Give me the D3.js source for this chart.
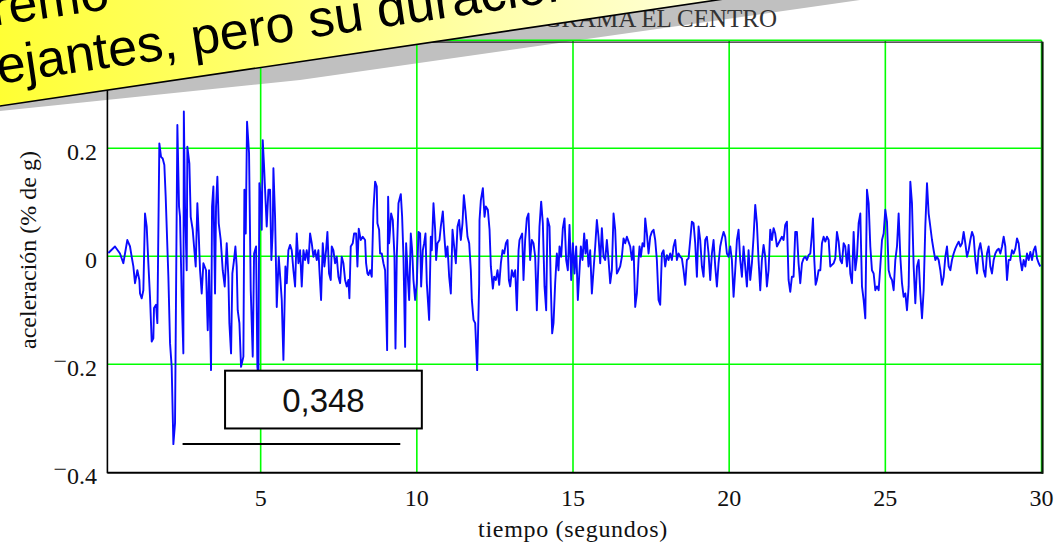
<!DOCTYPE html>
<html>
<head>
<meta charset="utf-8">
<script src="https://cdn.jsdelivr.net/npm/d3@7"></script>
<style>
  html, body { margin: 0; padding: 0; background: #fff; }
  svg { display: block; }
</style>
</head>
<body>
<div id="chart"></div>
<script>
// ── Texts ──
const titulo = 'ACELEROGRAMA EL CENTRO';
const tituloX = 'tiempo (segundos)';
const tituloY = 'aceleración (% de g)';
const bannerLinea1 = 'extremo';
const bannerLinea2 = 'semejantes, pero su duración es distinta';

// ── Axes ──
const xTicks = [5, 10, 15, 20, 25, 30];
const yTicks = [0.2, 0, -0.2, -0.4];
const gridX = [5, 10, 15, 20, 25, 30];
const gridY = [0.4, 0.2, 0, -0.2];

// ── Peak annotation ──
const picoValor = -0.348;
const picoTexto = '0,348';

// ── Accelerogram, t in s, a in g ──
const tiempo1 = [
  0.123, 0.336, 0.496, 0.603, 0.731, 0.817, 0.870, 0.924, 0.977, 1.052,
  1.116, 1.137, 1.191, 1.244, 1.297, 1.351, 1.404, 1.457, 1.511, 1.564,
  1.585, 1.650, 1.692, 1.756, 1.810, 1.863, 1.916, 1.959, 2.045, 2.098,
  2.151, 2.205, 2.258, 2.333, 2.386, 2.418, 2.472, 2.525, 2.540, 2.578,
  2.632, 2.653, 2.717, 2.760, 2.824, 2.867, 2.920, 2.973, 3.016, 3.059,
  3.112, 3.166, 3.251, 3.305, 3.347, 3.411, 3.443, 3.486, 3.539, 3.571,
  3.614, 3.657, 3.721, 3.785, 3.849, 3.913, 3.966, 3.998, 4.052, 4.094,
  4.148, 4.191, 4.233, 4.265, 4.319, 4.372, 4.447, 4.479, 4.522, 4.564,
  4.628, 4.682, 4.746, 4.789, 4.853, 4.895, 4.927, 4.959, 5.002, 5.034,
  5.066, 5.109, 5.141, 5.194, 5.248, 5.301, 5.343, 5.387, 5.408, 5.461,
  5.515, 5.579, 5.632, 5.675, 5.728, 5.792, 5.835, 5.888, 5.942, 5.995,
  6.048, 6.102
];
const acel1 = [
  0.006, 0.018, 0.005, -0.013, 0.030, 0.018, -0.001, -0.019, -0.050, -0.026,
  -0.044, -0.069, -0.078, -0.063, 0.079, 0.055, -0.013, -0.075, -0.158, -0.152,
  -0.096, -0.090, -0.124, 0.209, 0.184, 0.181, 0.169, 0.110, -0.038, -0.161,
  -0.205, -0.348, -0.309, 0.243, 0.092, 0.073, -0.075, -0.180, 0.268, 0.092,
  -0.026, 0.203, 0.172, 0.073, 0.049, 0.018, -0.019, 0.098, 0.042, -0.026,
  -0.069, -0.013, -0.026, -0.137, -0.026, -0.211, 0.092, 0.129, -0.069, 0.092,
  0.147, 0.061, 0.030, -0.026, -0.056, 0.024, -0.038, -0.124, -0.180, -0.032,
  -0.007, 0.018, -0.019, -0.100, -0.124, -0.205, -0.186, 0.123, 0.042, 0.249,
  0.191, -0.063, -0.186, 0.005, 0.018, -0.205, -0.223, 0.135, 0.110, 0.049,
  0.215, 0.166, 0.123, 0.055, 0.123, 0.123, -0.007, 0.049, 0.163, 0.073,
  -0.094, -0.001, -0.044, -0.081, -0.192, -0.019, -0.050, 0.011, 0.021, 0.011,
  -0.026, -0.056
];

const tiempo2 = [
  6.155, 6.209, 6.262, 6.315, 6.369, 6.422, 6.475, 6.529, 6.582, 6.635,
  6.689, 6.742, 6.796, 6.849, 6.881, 6.934, 6.988, 7.041, 7.094, 7.137,
  7.190, 7.244, 7.276, 7.329, 7.382, 7.436, 7.489, 7.543, 7.596, 7.649,
  7.703, 7.756, 7.809, 7.841, 7.884, 7.948, 7.991, 8.055, 8.098, 8.140,
  8.204, 8.268, 8.343, 8.375, 8.418, 8.450, 8.503, 8.557, 8.610, 8.664,
  8.717, 8.738, 8.792, 8.824, 8.877, 8.931, 8.984, 9.016, 9.049, 9.081,
  9.113, 9.177, 9.230, 9.284, 9.316, 9.358, 9.412, 9.487, 9.529, 9.572,
  9.625, 9.657, 9.711, 9.754, 9.807, 9.850, 9.892, 9.946, 9.999, 10.053,
  10.106, 10.138, 10.191, 10.234, 10.277, 10.320, 10.394, 10.447, 10.479, 10.533,
  10.586, 10.618, 10.661, 10.725, 10.768, 10.832, 10.875, 10.928, 10.982, 11.035,
  11.088, 11.142, 11.195, 11.249, 11.302, 11.355, 11.409, 11.462, 11.505, 11.558,
  11.622, 11.676, 11.729, 11.761, 11.815, 11.868, 11.932, 11.996, 12.007, 12.050,
  12.114, 12.167, 12.210, 12.274, 12.328, 12.370, 12.434, 12.477, 12.531, 12.584,
  12.637, 12.691, 12.744, 12.797, 12.851, 12.904, 12.947, 12.990, 13.043, 13.096,
  13.150, 13.203, 13.257
];
const acel2 = [
  0.042, -0.013, 0.011, -0.056, 0.011, -0.007, 0.011, -0.013, 0.042, 0.024,
  -0.001, 0.011, -0.007, 0.011, -0.026, -0.081, 0.024, -0.019, 0.011, 0.045,
  -0.032, -0.044, 0.018, 0.011, -0.013, -0.001, -0.038, -0.050, -0.001, -0.013,
  -0.044, -0.056, -0.044, -0.078, 0.018, 0.024, 0.042, 0.042, -0.019, 0.051,
  0.030, 0.036, 0.030, -0.013, -0.032, -0.035, -0.026, -0.038, 0.086, 0.138,
  0.129, 0.061, 0.049, 0.005, 0.005, -0.013, -0.026, -0.094, -0.174, 0.110,
  0.024, 0.079, 0.067, -0.001, -0.171, -0.001, 0.098, 0.115, 0.073, -0.001,
  -0.168, 0.024, -0.038, -0.081, 0.042, 0.011, -0.044, -0.081, -0.050, 0.045,
  0.042, -0.056, 0.011, 0.024, 0.042, -0.050, -0.118, 0.036, 0.011, 0.098,
  0.049, -0.007, 0.024, 0.030, 0.055, 0.083, 0.042, -0.001, 0.018, -0.038,
  -0.069, 0.049, 0.018, -0.013, 0.055, 0.067, 0.030, 0.061, 0.113, 0.083,
  0.036, 0.024, -0.026, -0.081, -0.118, -0.124, -0.211, -0.050, 0.067, 0.104,
  0.126, 0.073, 0.092, 0.086, 0.049, -0.019, -0.060, -0.038, -0.044, -0.026,
  -0.053, -0.013, 0.011, 0.005, 0.024, 0.030, -0.044, -0.056, -0.026, -0.038,
  -0.026, -0.100, 0.011
];

const tiempo3 = [
  13.287, 13.330, 13.372, 13.415, 13.468, 13.522, 13.575, 13.628, 13.682, 13.735,
  13.789, 13.842, 13.895, 13.927, 13.981, 14.034, 14.088, 14.141, 14.184, 14.248,
  14.290, 14.333, 14.376, 14.429, 14.483, 14.536, 14.568, 14.621, 14.675, 14.728,
  14.782, 14.835, 14.888, 14.942, 14.995, 15.049, 15.102, 15.155, 15.209, 15.251,
  15.305, 15.358, 15.401, 15.444, 15.497, 15.550, 15.604, 15.657, 15.711, 15.764,
  15.817, 15.871, 15.924, 15.977, 16.031, 16.084, 16.138, 16.191, 16.244, 16.298,
  16.351, 16.404, 16.458, 16.511, 16.565, 16.618, 16.671, 16.725, 16.778, 16.831,
  16.885, 16.938, 16.992, 17.045, 17.098, 17.130, 17.173, 17.226, 17.280, 17.312,
  17.365, 17.419, 17.472, 17.525, 17.579, 17.632, 17.685, 17.739, 17.792, 17.846,
  17.899, 17.952, 18.006, 18.059, 18.112, 18.166, 18.219, 18.273, 18.326, 18.379,
  18.433, 18.486, 18.539, 18.593, 18.646, 18.700, 18.753, 18.806, 18.860, 18.913,
  18.967, 19.020, 19.073, 19.127, 19.180, 19.233, 19.287, 19.340, 19.394, 19.447,
  19.500, 19.554, 19.607, 19.660, 19.714, 19.767, 19.821, 19.874, 19.927, 19.981,
  20.034, 20.087, 20.141, 20.194, 20.248, 20.301, 20.354, 20.408, 20.461, 20.514,
  20.568, 20.621, 20.675, 20.728, 20.781, 20.835, 20.888, 20.941, 20.995, 21.048,
  21.102, 21.155, 21.208, 21.262, 21.315, 21.368, 21.422, 21.475, 21.529, 21.582,
  21.635, 21.689, 21.742, 21.795, 21.849, 21.902, 21.956, 22.009, 22.062, 22.116,
  22.169, 22.222, 22.276
];
const acel3 = [
  0.030, 0.036, 0.042, -0.044, 0.030, 0.070, 0.079, -0.007, 0.030, 0.024,
  -0.001, -0.100, -0.007, 0.055, 0.101, 0.061, -0.056, -0.100, 0.070, 0.055,
  -0.056, -0.143, -0.124, -0.050, 0.005, -0.026, 0.018, -0.001, 0.052, 0.070,
  -0.007, -0.026, 0.058, -0.044, 0.024, -0.032, 0.018, -0.081, -0.026, 0.018,
  -0.007, 0.042, 0.005, 0.030, -0.019, 0.011, -0.069, -0.026, 0.018, 0.067,
  0.036, -0.013, 0.052, -0.001, -0.007, 0.030, -0.007, -0.050, -0.026, 0.079,
  0.049, -0.032, -0.026, -0.019, -0.001, 0.033, 0.024, 0.036, 0.027, 0.018,
  -0.007, 0.018, -0.094, -0.069, -0.007, 0.018, -0.001, 0.024, 0.018, 0.070,
  0.042, 0.005, 0.036, 0.045, 0.049, 0.030, -0.007, -0.081, -0.090, 0.005,
  0.011, -0.019, 0.002, -0.007, 0.005, -0.007, 0.018, 0.030, -0.007, 0.005,
  -0.001, -0.004, -0.026, -0.053, -0.007, -0.004, 0.030, 0.064, 0.061, 0.024,
  -0.038, 0.055, 0.030, -0.019, -0.038, 0.030, 0.036, 0.005, -0.044, 0.005,
  0.030, -0.019, -0.056, -0.013, 0.018, 0.033, 0.045, 0.036, 0.005, -0.001,
  0.018, -0.007, -0.075, -0.026, 0.030, 0.049, -0.007, -0.038, 0.018, -0.019,
  -0.056, 0.011, -0.044, -0.013, 0.036, 0.095, 0.061, -0.007, -0.063, -0.007,
  0.021, -0.001, -0.056, -0.026, 0.049, 0.030, 0.052, 0.042, 0.018, 0.024,
  0.030, 0.036, 0.030, 0.058, 0.064, -0.044, -0.066, -0.038, -0.038, 0.045,
  0.045, -0.013, -0.050
];

const tiempo4 = [
  22.331, 22.384, 22.437, 22.491, 22.544, 22.598, 22.651, 22.683, 22.726, 22.768,
  22.811, 22.864, 22.918, 22.971, 23.024, 23.078, 23.131, 23.185, 23.238, 23.291,
  23.345, 23.398, 23.451, 23.505, 23.558, 23.612, 23.665, 23.718, 23.772, 23.825,
  23.878, 23.932, 23.985, 24.039, 24.092, 24.145, 24.199, 24.252, 24.305, 24.359,
  24.412, 24.466, 24.519, 24.572, 24.626, 24.679, 24.732, 24.786, 24.839, 24.893,
  24.946, 24.999, 25.053, 25.106, 25.159, 25.213, 25.266, 25.320, 25.373, 25.426,
  25.480, 25.533, 25.586, 25.640, 25.693, 25.747, 25.800, 25.853, 25.907, 25.960,
  26.013, 26.067, 26.120, 26.174, 26.227, 26.280, 26.334, 26.387, 26.440, 26.494,
  26.547, 26.601, 26.654, 26.707, 26.761, 26.814, 26.867, 26.921, 26.974, 27.028,
  27.081, 27.134, 27.188, 27.241, 27.294, 27.348, 27.401, 27.455, 27.508, 27.561,
  27.615, 27.668, 27.721, 27.775, 27.828, 27.882, 27.935, 27.988, 28.042, 28.095,
  28.148, 28.202, 28.255, 28.309, 28.362, 28.415, 28.469, 28.522, 28.575, 28.629,
  28.682, 28.736, 28.789, 28.842, 28.896, 28.949, 29.002, 29.056, 29.109, 29.163,
  29.216, 29.269, 29.323, 29.376, 29.429, 29.483, 29.536, 29.590, 29.643, 29.696,
  29.750, 29.803, 29.856, 29.910, 29.963
];
const acel4 = [
  -0.013, -0.004, -0.001, -0.007, 0.002, 0.005, 0.042, 0.070, -0.007, -0.053,
  -0.044, -0.026, -0.026, 0.024, 0.036, 0.027, 0.036, 0.030, -0.019, -0.016,
  -0.013, -0.004, 0.045, 0.027, -0.007, -0.013, 0.024, 0.018, -0.019, 0.021,
  -0.032, -0.050, 0.045, -0.026, -0.001, 0.061, 0.079, -0.056, -0.081, -0.115,
  0.123, 0.098, 0.018, -0.026, -0.032, -0.063, -0.056, -0.063, -0.019, 0.030,
  0.042, 0.086, 0.064, -0.026, -0.038, -0.044, -0.063, -0.007, 0.018, 0.079,
  -0.001, -0.050, -0.075, -0.069, -0.100, -0.056, 0.138, 0.098, -0.019, -0.087,
  -0.019, -0.007, -0.069, -0.115, -0.063, 0.055, 0.135, 0.079, 0.055, 0.030,
  0.011, -0.007, -0.001, -0.007, -0.026, -0.053, -0.038, -0.001, 0.018, -0.019,
  -0.026, -0.007, 0.005, 0.014, 0.021, 0.027, 0.018, 0.024, 0.045, 0.024,
  -0.001, 0.011, 0.030, 0.045, 0.036, -0.007, -0.032, 0.011, 0.024, 0.005,
  -0.026, -0.038, 0.005, 0.018, -0.019, -0.032, -0.007, 0.005, 0.011, 0.014,
  0.005, 0.018, 0.036, 0.018, -0.044, -0.007, -0.007, 0.011, 0.005, 0.014,
  0.033, 0.024, -0.007, -0.026, -0.007, -0.019, 0.005, -0.007, 0.008, -0.007,
  0.011, 0.018, -0.004, -0.013, -0.019
];

const tiempo = [...tiempo1, ...tiempo2, ...tiempo3, ...tiempo4];
const aceleracion = [...acel1, ...acel2, ...acel3, ...acel4];
const registro = d3.zip(tiempo, aceleracion);

// ── Layout ──
const W = 1061, H = 543;
const SERIF = '"Liberation Serif", "Times New Roman", Times, serif';
const SANS = '"Liberation Sans", Arial, Helvetica, sans-serif';
const GREEN = '#00ff00';

const x = d3.scaleLinear().domain([0, 30]).range([104.5, 1041.5]);
const y = d3.scaleLinear().domain([-0.4, 0.4]).range([472.2, 40.2]);
const xLeft = 107.4;

const svg = d3.select('#chart').append('svg')
  .attr('width', W)
  .attr('height', H)
  .attr('viewBox', `0 0 ${W} ${H}`);

svg.append('rect').attr('width', W).attr('height', H).attr('fill', '#fff');

// Banner drop shadow (sits under the chart)
svg.append('polygon')
  .attr('points', '0,100 0,111 300,80 860,0 700,0')
  .attr('fill', '#c0c0c0');

// ── Title ──
svg.append('text')
  .attr('x', 777)
  .attr('y', 27)
  .attr('text-anchor', 'end')
  .attr('font-family', SERIF)
  .attr('font-size', 25)
  .attr('fill', '#333')
  .text(titulo);

const g = svg.append('g');

// ── Grid ──
g.selectAll('.gx').data(gridX).enter().append('line')
  .attr('x1', d => x(d)).attr('x2', d => x(d))
  .attr('y1', y(0.4)).attr('y2', y(-0.4))
  .attr('stroke', GREEN).attr('stroke-width', 1.6);

g.selectAll('.gy').data(gridY).enter().append('line')
  .attr('x1', xLeft).attr('x2', x(30))
  .attr('y1', d => y(d)).attr('y2', d => y(d))
  .attr('stroke', GREEN).attr('stroke-width', 1.6);

// ── Frame ──
g.append('line').attr('x1', xLeft).attr('x2', xLeft)
  .attr('y1', y(0.4) + 1).attr('y2', y(-0.4) + 1)
  .attr('stroke', '#000').attr('stroke-width', 1.6);
g.append('line').attr('x1', xLeft).attr('x2', x(30) + 1.5)
  .attr('y1', y(-0.4) + 0.5).attr('y2', y(-0.4) + 0.5)
  .attr('stroke', '#000').attr('stroke-width', 2);
g.append('line').attr('x1', x(30) + 1).attr('x2', x(30) + 1)
  .attr('y1', y(0.4) + 1.5).attr('y2', y(-0.4) + 1.5)
  .attr('stroke', '#0a1a0a').attr('stroke-width', 2.2);
g.append('line').attr('x1', xLeft).attr('x2', x(30) + 1)
  .attr('y1', y(0.4) + 2).attr('y2', y(0.4) + 2)
  .attr('stroke', '#222').attr('stroke-width', 1.2);

// ── Tick labels ──
g.selectAll('.xt').data(xTicks).enter().append('text')
  .attr('x', d => x(d))
  .attr('y', 506)
  .attr('text-anchor', 'middle')
  .attr('font-family', SERIF)
  .attr('font-size', 24)
  .attr('fill', '#111')
  .text(d => d);

const yt = g.selectAll('.yt').data(yTicks).enter().append('text')
  .attr('x', 97)
  .attr('y', d => y(d) + 12)
  .attr('text-anchor', 'end')
  .attr('font-family', SERIF)
  .attr('font-size', 24)
  .attr('fill', '#111');
yt.each(function (d) {
  const t = d3.select(this);
  if (d < 0) {
    t.append('tspan').attr('dy', -7).text('\u2212');
    t.append('tspan').attr('dy', 7).text(String(Math.abs(d)));
  } else {
    t.text(String(d));
  }
});

// ── Axis titles ──
svg.append('text')
  .attr('x', x(15))
  .attr('y', 537)
  .attr('text-anchor', 'middle')
  .attr('font-family', SERIF)
  .attr('font-size', 24)
  .attr('letter-spacing', 0.7)
  .attr('fill', '#111')
  .text(tituloX);

svg.append('text')
  .attr('transform', 'translate(36,250) rotate(-90)')
  .attr('text-anchor', 'middle')
  .attr('font-family', SERIF)
  .attr('font-size', 24)
  .attr('fill', '#111')
  .text(tituloY);

// ── Signal ──
const line = d3.line().x(d => x(d[0])).y(d => y(d[1]));
g.append('path')
  .datum(registro)
  .attr('d', line)
  .attr('fill', 'none')
  .attr('stroke', '#0a0aff')
  .attr('stroke-width', 1.9)
  .attr('stroke-linejoin', 'round');

// ── Peak annotation ──
g.append('line')
  .attr('x1', x(2.5)).attr('x2', x(9.47))
  .attr('y1', y(picoValor)).attr('y2', y(picoValor))
  .attr('stroke', '#000').attr('stroke-width', 2);

g.append('rect')
  .attr('x', x(3.86))
  .attr('y', y(-0.212))
  .attr('width', x(10.16) - x(3.86))
  .attr('height', y(-0.319) - y(-0.212))
  .attr('fill', '#fff')
  .attr('stroke', '#000')
  .attr('stroke-width', 2);

g.append('text')
  .attr('x', (x(3.86) + x(10.16)) / 2)
  .attr('y', 412)
  .attr('text-anchor', 'middle')
  .attr('font-family', SANS)
  .attr('font-size', 33)
  .attr('fill', '#111')
  .text(picoTexto);

// ── Yellow callout banner over the top-left corner ──
const defs = svg.append('defs');
const grad = defs.append('linearGradient')
  .attr('id', 'banner-grad')
  .attr('gradientUnits', 'userSpaceOnUse')
  .attr('x1', 0).attr('y1', 0).attr('x2', 760).attr('y2', 0);
grad.append('stop').attr('offset', 0).attr('stop-color', '#ffff33');
grad.append('stop').attr('offset', 0.3).attr('stop-color', '#ffff66');
grad.append('stop').attr('offset', 0.65).attr('stop-color', '#ffffaa');
grad.append('stop').attr('offset', 1).attr('stop-color', '#ffffe0');

const banner = svg.append('g')
  .attr('transform', 'translate(0,106) rotate(-8.41)');

banner.append('rect')
  .attr('x', -120).attr('y', -220)
  .attr('width', 1100).attr('height', 220)
  .attr('fill', 'url(#banner-grad)');

banner.append('line')
  .attr('x1', -120).attr('x2', 980)
  .attr('y1', 0).attr('y2', 0)
  .attr('stroke', '#000').attr('stroke-width', 1.6);

banner.append('text')
  .attr('x', -64).attr('y', -80)
  .attr('font-family', SANS)
  .attr('font-size', 52)
  .attr('fill', '#000')
  .text(bannerLinea1);

banner.append('text')
  .attr('x', -96).attr('y', -22)
  .attr('font-family', SANS)
  .attr('font-size', 52)
  .attr('fill', '#000')
  .text(bannerLinea2);
</script>
</body>
</html>
